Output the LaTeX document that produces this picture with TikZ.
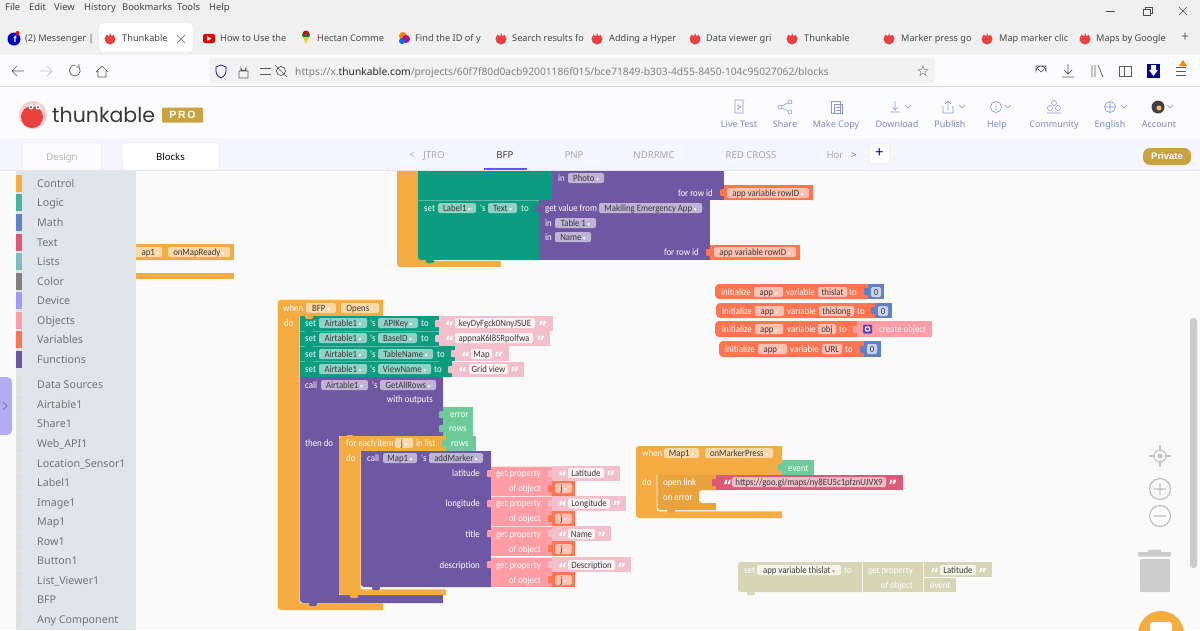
\documentclass[tikz,border=0pt]{standalone}
\usepackage{fontspec}
\setmainfont{Noto Sans}
\newfontfamily\symfont{DejaVu Sans}
\newfontfamily\logofont{Poppins}
\newfontfamily\blockfont[FakeStretch=0.91]{Carlito}
\newfontfamily\boldui{Liberation Sans}
\usetikzlibrary{positioning}

\definecolor{ctrl}{HTML}{F4AB41}
\definecolor{ctrlb}{HTML}{FFC62E}
\definecolor{setg}{HTML}{0C9C80}
\definecolor{fn}{HTML}{6F58A3}
\definecolor{obj}{HTML}{FF9CA4}
\definecolor{varb}{HTML}{FF7552}
\definecolor{strp}{HTML}{F2BFCB}
\definecolor{rose}{HTML}{DB5A78}
\definecolor{numb}{HTML}{6080C8}
\definecolor{evg}{HTML}{6ECB99}
\definecolor{ghost}{HTML}{D6D6B6}
\definecolor{side}{HTML}{E0E5EC}
\definecolor{uiblue}{HTML}{8A96D8}
\definecolor{gold}{HTML}{C9A33F}
\definecolor{thred}{HTML}{E8413F}
\definecolor{lilac}{HTML}{B3ACF2}

\tikzset{
    wtxt/.style={text=white, inner sep=0pt, text height=6.5pt, text depth=.5pt, font=\blockfont\fontsize{9.7}{11}\selectfont},
    ui/.style={inner sep=0pt, text height=7.5pt, text depth=.5pt, font=\fontsize{9.6}{11}\selectfont},
    pill/.style={rounded corners=2pt, inner sep=0pt, minimum height=10pt, text height=7pt, text depth=1pt, text=black!78, font=\blockfont\fontsize{9.6}{10}\selectfont},
    pgreen/.style={fill=setg!45!white},
    pfn/.style={fill=fn!45!white},
    pctrl/.style={fill=ctrl!45!white},
    pstr/.style={fill=white!80!strp},
    prose/.style={fill=rose!40!white},
    pvar/.style={fill=varb!45!white},
    pnum/.style={fill=numb!35!white},
    pghost/.style={fill=white!75!ghost},
    icn/.style={draw=uiblue, line width=.6pt},
    nav/.style={draw=black!65, line width=.7pt},
    qmark/.style={wtxt, anchor=base west, font=\symfont\bfseries\fontsize{14}{14}\selectfont},
}

\newcommand{\llab}[4]{\node[wtxt, anchor=west] (#1) at (#2,#3) {#4};}
\newcommand{\rlab}[4]{\node[wtxt, anchor=east] (#1) at (#2,#3) {#4};}
\newcommand{\dd}{\textcolor{white}{\,{\symfont\fontsize{5.5}{6}\selectfont ▾}}}
\newcommand{\pil}[6]{\node[pill, #5, minimum width={(#3-#2)*1pt}] (#1) at ({(#2+#3)/2},#4) {#6};}
\newcommand{\lqt}[3]{\node[qmark] (#1) at (#2,#3+8) {“};}
\newcommand{\rqt}[3]{\node[qmark] (#1) at (#2,#3+8) {”};}
\newcommand{\tabin}[3]{\fill[#3, rounded corners=1pt] (#1-4,#2+4) rectangle (#1+1,#2+11);}
\newcommand{\notch}[3]{\fill[#3, rounded corners=1.5pt] (#1,#2-1) rectangle (#1+8,#2+3);}
\newcommand{\cblk}[9]{
    \fill[#1] [rounded corners=3pt] (#2,#9) -- (#2,#3) [sharp corners] -- (#4,#3) -- (#4,#5) -- (#6,#5) -- (#6,#7) -- (#8,#7) -- (#8,#9) [rounded corners=3pt] -- cycle;
    \draw[white, line width=.7pt, rounded corners=2pt] (#6,#5) -- (#6,#7) -- (#8,#7);
}
\newcommand{\thunk}[2]{
    \fill[thred] (#1,#2) circle (5.5);
    \fill[white] (#1-1.5,#2-4.5) circle (1.4) (#1+2,#2-4.5) circle (1.4);
}

\begin{document}
\begin{tikzpicture}[x=1pt, y=-1pt]
    \useasboundingbox (0,0) rectangle (1200,630);
    \fill[white!70!black!3] (0,0) rectangle (1200,630);
    \fill[black!2] (0,170) rectangle (1200,630);

    % blocks at the top
    \fill[ctrl, rounded corners=3pt] (397,165) rectangle (430,267);
    \fill[ctrl] (420,261) rectangle (501,267);
    \fill[setg] (418,165) rectangle (552,200);
    \fill[setg] [sharp corners] (418,200) -- (539,200) -- (539,260) -- (423,260) [rounded corners=3pt] -- (418,260) [sharp corners] -- cycle;
    \notch{426}{260}{setg}
    \draw[setg!70!white, line width=.4pt] (418,200) -- (539,200);
    \fill[fn] (552,165) rectangle (724,200);
    \fill[fn] (539,200) rectangle (710,260);
    \fill[varb] (724,185) rectangle (813,200);
    \fill[varb] (710,245) rectangle (800,260);
    \tabin{724}{185}{varb}
    \tabin{710}{245}{varb}
    \tabin{539}{201}{fn}
    \llab{inphoto}{558}{178}{in}
    \pil{photo}{568}{604}{178}{pfn}{Photo\dd}
    \rlab{rowida}{713}{193}{for row id}
    \pil{rowvara}{727}{809}{193}{pvar}{app variable rowID\dd}
    \llab{setlabel}{424}{208}{set}
    \pil{label}{438}{476}{208}{pgreen}{Label1\dd}
    \llab{slabel}{480}{208}{'s}
    \pil{textp}{488}{517}{208}{pgreen}{Text\dd}
    \llab{tolabel}{521}{208}{to}
    \llab{getval}{545}{208}{get value from}
    \pil{makiling}{599}{702}{208}{pfn}{Makiling Emergency App\dd}
    \llab{intable}{545}{223}{in}
    \pil{table}{555}{596}{223}{pfn}{Table 1\dd}
    \llab{inname}{545}{237}{in}
    \pil{namep}{555}{591}{237}{pfn}{Name\dd}
    \rlab{rowidb}{699}{252}{for row id}
    \pil{rowvarb}{714}{796}{252}{pvar}{app variable rowID\dd}

    % block behind the palette
    \fill[ctrl] (125,244) rectangle (234,260);
    \fill[ctrl] (125,273) rectangle (234,279);
    \pil{mapa}{125}{162}{252}{pctrl}{\hspace*{14pt}ap1\dd}
    \pil{ready}{168}{230}{252}{pctrl}{onMapReady\dd}

    % when BFP opens
    \cblk{ctrl}{278}{300}{383}{316}{300}{603}{383}{610}
    \draw[ctrlb, line width=.7pt, rounded corners=3pt] (278,610) -- (278,300) -- (383,300);
    \llab{whenb}{283}{308}{when}
    \pil{bfp}{306}{336}{308}{pctrl}{BFP\dd}
    \pil{opens}{341}{379}{308}{pctrl}{Opens\dd}
    \llab{dob}{284}{323}{do}
    \fill[setg] (300,316) rectangle (439,331);
    \fill[setg] (300,331) rectangle (439,346);
    \fill[setg] (300,346) rectangle (455,361);
    \fill[setg] (300,361) rectangle (452,377);
    \foreach \ys in {331,346,361} {
        \draw[setg!70!white, line width=.4pt] (300,\ys) -- (439,\ys);
    }
    \foreach \ys in {316,331,346,361,377} {
        \notch{305}{\ys}{setg}
    }
    \notch{305}{316}{ctrl}
    \fill[strp] (439,316) rectangle (553,331);
    \fill[strp] (439,331) rectangle (550,346);
    \fill[strp] (455,346) rectangle (509,361);
    \fill[strp] (452,362) rectangle (524,377);
    \tabin{439}{316}{strp}
    \tabin{439}{331}{strp}
    \tabin{455}{346}{strp}
    \tabin{452}{362}{strp}
    \foreach \n/\yr/\fld/\fldw/\fa/\fb/\qa/\qb/\tox/\val [count=\k] in {
        APIKey/323/418/418/455/535/445/538/421/keyDyFgck0NnyJSUE,
        BaseID/338/417/417/455/533/445/536/421/appnaK6I8SRpolfwa,
        TableName/354/433/433/471/492/461/494/437/Map,
        ViewName/369/431/431/469/508/458/510/434/Grid view} {
        \llab{set\k}{305}{\yr}{set}
        \pil{air\k}{319}{367}{\yr}{pgreen}{Airtable1\dd}
        \llab{s\k}{370}{\yr}{'s}
        \pil{prop\k}{378}{\fld}{\yr}{pgreen}{\n\dd}
        \llab{to\k}{\tox}{\yr}{to}
        \lqt{qa\k}{\qa}{\yr}
        \pil{val\k}{\fa}{\fb}{\yr}{pstr}{\val}
        \rqt{qb\k}{\qb}{\yr}
    }

    % call GetAllRows
    \fill[fn] [sharp corners] (300,377) -- (443,377) -- (443,436) -- (339,436) -- (339,595) -- (443,595) -- (443,603) -- (305,603) [rounded corners=3pt] -- (300,603) [sharp corners] -- cycle;
    \notch{309}{603}{fn}
    \fill[evg] (443,407) rectangle (473,421);
    \fill[evg] (443,421) rectangle (473,436);
    \tabin{443}{407}{evg}
    \tabin{443}{421}{evg}
    \llab{callc}{305}{385}{call}
    \pil{airc}{321}{368}{385}{pfn}{Airtable1\dd}
    \llab{sc}{372}{385}{'s}
    \pil{rows}{380}{436}{385}{pfn}{GetAllRows\dd}
    \rlab{outs}{433}{399}{with outputs}
    \llab{errorv}{450}{414}{error}
    \llab{rowsa}{449}{428.5}{rows}
    \llab{thendo}{305}{443}{then do}

    % for each item
    \cblk{ctrl}{339}{436}{446}{451}{361}{589}{446}{595}
    \notch{350}{595}{ctrl}
    \notch{346}{436}{ctrl}
    \fill[evg] (446,436) rectangle (476,451);
    \tabin{446}{436}{evg}
    \llab{foreach}{346}{443}{for each item}
    \pil{jloop}{395}{413}{443}{pctrl}{j\dd}
    \llab{inlist}{416}{443}{in list}
    \llab{rowsb}{451}{443}{rows}
    \llab{dofor}{346}{458}{do}

    % call addMarker
    \fill[fn] [sharp corners] (361,451) -- (491,451) -- (491,587) -- (366,587) [rounded corners=3pt] -- (361,587) [sharp corners] -- cycle;
    \notch{372}{587}{fn}
    \llab{callm}{367}{458}{call}
    \pil{mapm}{383}{417}{458}{pfn}{Map1\dd}
    \llab{sm}{421}{458}{'s}
    \pil{addm}{429}{483}{458}{pfn}{addMarker\dd}
    \foreach \n/\pa/\pb/\sb/\fb/\qb/\pname [count=\k] in {
        latitude/466/473/481/604/606/Latitude,
        longitude/496/503.5/511/610/612/Longitude,
        title/526/534/541/595/597/Name,
        description/557/565/572/615/617/Description} {
        \fill[obj] (491,\pa) rectangle (552,\pa+30);
        \draw[white!70!obj, line width=.4pt] (491,\pa) -- (552,\pa);
        \tabin{491}{\pa}{obj}
        \fill[strp] (552,\pa) rectangle (\fb+16,\sb);
        \tabin{552}{\pa}{strp}
        \fill[varb] (552,\sb) rectangle (575,\sb+15);
        \tabin{552}{\sb}{varb}
        \rlab{argn\k}{480}{\pb}{\n}
        \rlab{getp\k}{541}{\pb}{get property}
        \rlab{ofo\k}{541}{\pb+15}{of object}
        \lqt{qc\k}{558}{\pb}
        \pil{pn\k}{568}{\fb}{\pb}{pstr}{\pname}
        \rqt{qd\k}{\qb}{\pb}
        \pil{pj\k}{555}{572}{\pb+15}{pvar}{j\dd}
    }

    % initialize blocks
    \fill[varb, rounded corners=4pt] (715,284) rectangle (872,299);
    \fill[varb, rounded corners=4pt] (716,303) rectangle (879,318);
    \fill[varb, rounded corners=4pt] (715,321) rectangle (860,337);
    \fill[varb, rounded corners=4pt] (719,341) rectangle (868,357);
    \fill[numb] (868,284) rectangle (884,299);
    \fill[numb] (875,303) rectangle (892,318);
    \fill[obj] (857,321) rectangle (932,337);
    \fill[numb] (864,341) rectangle (881,357);
    \tabin{868}{284}{numb}
    \tabin{875}{303}{numb}
    \tabin{857}{322}{obj}
    \tabin{864}{342}{numb}
    \foreach \yr/\xa/\appa/\appb/\xv/\na/\nb/\nm/\tox [count=\k] in {
        292/721/754/783/786/818/847/thislat/849,
        311/722/755/784/787/819/854/thislong/857,
        329/722/755/783/787/818/836/obj/839,
        349/725/758/787/790/822/842/URL/845} {
        \llab{init\k}{\xa}{\yr}{initialize}
        \pil{app\k}{\appa}{\appb}{\yr}{pvar}{app\dd}
        \llab{vari\k}{\xv}{\yr}{variable}
        \pil{vn\k}{\na}{\nb}{\yr}{pvar}{\nm}
        \llab{tov\k}{\tox}{\yr}{to}
    }
    \pil{zeroa}{871}{881}{292}{pnum}{0}
    \pil{zerob}{878}{888}{311}{pnum}{0}
    \pil{zeroc}{867}{877}{349}{pnum}{0}
    \node[fill=fn!85!blue, rounded corners=1pt, minimum size=9pt, inner sep=0pt] (gear) at (867.5,329) {};
    \draw[white, line width=1pt] (gear.center) circle (2.2);
    \llab{createo}{879}{329}{create object}

    % when map marker pressed
    \fill[ctrl] [rounded corners=3pt] (636,518) -- (636,446) [sharp corners] -- (782,446) -- (782,475) -- (657,475) -- (657,511) -- (782,511) -- (782,518) [rounded corners=3pt] -- cycle;
    \fill[ctrl!95!black] [sharp corners] (657,475) -- (716,475) -- (716,490) -- (703,490) [rounded corners=3pt] -- (699,490) -- (699,503) [sharp corners] -- (716,503) -- (716,510) -- (662,510) [rounded corners=3pt] -- (657,510) [sharp corners] -- cycle;
    \draw[white, line width=.6pt, rounded corners=2pt] (657,475) -- (657,511) -- (782,511);
    \notch{667}{510}{ctrl!95!black}
    \fill[evg] (782,460) rectangle (814,475);
    \tabin{782}{460}{evg}
    \fill[rose] (716,475) rectangle (903,490);
    \tabin{716}{475}{rose}
    \llab{whenm}{642}{453}{when}
    \pil{mapw}{664}{699}{453}{pctrl}{Map1\dd}
    \pil{markerp}{705}{773}{453}{pctrl}{onMarkerPress\dd}
    \llab{eventa}{788}{468}{event}
    \llab{dom}{642}{482}{do}
    \llab{openl}{663}{482}{open link}
    \llab{onerr}{663}{497}{on error}
    \lqt{qe}{723}{482}
    \pil{urlf}{732}{886}{482}{prose}{https://goo.gl/maps/ny8EU5c1pfznUJVX9}
    \rqt{qf}{888}{482}

    % disabled block
    \fill[ghost, rounded corners=3pt] (738,562) rectangle (870,592);
    \notch{747}{592}{ghost}
    \fill[ghost] (863,562) rectangle (923,592);
    \fill[ghost] (924,562) rectangle (992,577);
    \fill[ghost] (924,578) rectangle (956,592);
    \draw[white!70!ghost, line width=.5pt] (862.5,562) -- (862.5,592) (923.5,562) -- (923.5,592);
    \llab{setgh}{744}{570}{set}
    \pil{thislat}{757}{841}{570}{pghost}{app variable thislat\textcolor{varb}{\,{\symfont\fontsize{5.5}{6}\selectfont ▾}}}
    \llab{tog}{844}{570}{to}
    \rlab{getg}{913}{570}{get property}
    \rlab{ofg}{913}{585}{of object}
    \lqt{qg}{930}{570}
    \pil{latg}{940}{976}{570}{pghost}{Latitude}
    \rqt{qh}{978}{570}
    \llab{eventg}{930}{585}{event}

    % trash and map controls
    \fill[black!20, rounded corners=1pt] (1140,559) rectangle (1170,592);
    \fill[black!20, rounded corners=1pt] (1138,552) rectangle (1171,556.5);
    \fill[black!20, rounded corners=1pt] (1148,549.5) rectangle (1161,553);
    \draw[black!25, line width=1.2pt] (1160,456) circle (6);
    \fill[black!25] (1160,456) circle (2.5);
    \draw[black!25, line width=1.2pt] (1160,445) -- (1160,450) (1160,462) -- (1160,467) (1149,456) -- (1154,456) (1166,456) -- (1171,456);
    \draw[black!25, line width=1.2pt] (1160,489) circle (10.5) (1154,489) -- (1166,489) (1160,483) -- (1160,495);
    \draw[black!25, line width=1.2pt] (1160,516) circle (10.5) (1154,516) -- (1166,516);
    \fill[black!20, rounded corners=3pt] (1190,318) rectangle (1197,568);
    \fill[ctrl] (1161,634) circle (23);
    \fill[white, rounded corners=3pt] (1150,622) rectangle (1172,636);

    % palette
    \fill[side] (16,171) rectangle (136,630);
    \foreach \yc/\swatch/\n [count=\k] in {
        184/ctrl/Control, 203/setg!75!white/Logic, 223/numb/Math, 243/rose/Text,
        262/numb!30!setg!60!white/Lists, 281.5/black!50/Color, 301/lilac!90!blue/Device,
        321/obj/Objects, 340/varb/Variables, 359.7/fn/Functions} {
        \fill[\swatch] (16,\yc-9) rectangle (22,\yc+8);
        \node[ui, anchor=west, text=black!55, font=\fontsize{10.7}{12}\selectfont] (cat\k) at (37,\yc) {\n};
    }
    \foreach \yc/\n [count=\k] in {
        385/Data Sources, 405/Airtable1, 424/Share1, 444/Web\_API1, 463.5/Location\_Sensor1,
        483/Label1, 503/Image1, 522/Map1, 541.5/Row1, 561/Button1, 581/List\_Viewer1,
        600/BFP, 620/Any Component} {
        \fill[black!12] (16,\yc-9) rectangle (22,\yc+8);
        \node[ui, anchor=west, text=black!55, font=\fontsize{10.7}{12}\selectfont] (comp\k) at (37,\yc) {\n};
    }
    \fill[lilac, rounded corners=5pt] (-6,377) rectangle (12,435);
    \draw[black!60, line width=.6pt] (3,402) -- (7,406) -- (3,410);

    % page header
    \fill[blue!1!white] (0,86) rectangle (1200,138);
    \fill[blue!4!white] (0,138) rectangle (1200,170);
    \draw[black!10, line width=.6pt] (0,170.5) -- (1200,170.5);
    \node[ui, draw=black!10, fill=blue!1!white, rounded corners=1pt, minimum width=79pt, minimum height=27pt, text=black!30] (design) at (62,156.5) {Design};
    \node[ui, draw=black!10, fill=white, rounded corners=1pt, minimum width=95pt, minimum height=27pt] (blocks) at (170.5,156.5) {Blocks};
    \fill[thred!25!white] (33,115) circle (14);
    \fill[thred] (32,117) circle (11);
    \fill[white] (31,107) circle (2.5) (38,107) circle (2.5);
    \fill[black!75] (31,107) circle (1) (38,107) circle (1);
    \node[inner sep=0pt, anchor=west, text=black!78, font=\logofont\fontsize{20.5}{22}\selectfont] (brand) at (52,115) {thunkable};
    \node[fill=gold, text=white, rounded corners=1pt, inner sep=0pt, minimum width=41pt, minimum height=15pt, font=\boldui\bfseries\fontsize{10.5}{12}\selectfont] (pro) at (182.5,115) {P\,R\,O};

    \foreach \xc/\n [count=\k] in {739/Live Test, 785/Share, 836/Make Copy, 897/Download, 950/Publish, 997/Help, 1054/Community, 1110/English, 1159/Account} {
        \node[ui, text=uiblue!90!black, font=\fontsize{9}{11}\selectfont] (act\k) at (\xc,124) {\n};
    }
    \draw[icn] (735,100) rectangle (743,113) (738,105) -- (741,107) -- (738,109) -- cycle;
    \draw[icn] (780,107) circle (2) (790,102) circle (2) (790,112) circle (2) (782,106) -- (788,103) (782,108) -- (788,111);
    \draw[icn] (831,101) rectangle (840,113) (834,104) rectangle (842,113) (836,107) -- (840,107) (836,110) -- (840,110);
    \draw[icn] (890,112) -- (900,112) (895,101) -- (895,110) (892,107) -- (895,110) -- (898,107) (905,105) -- (908,108) -- (911,105);
    \draw[icn] (943,106) -- (943,113) -- (953,113) -- (953,106) (948,110) -- (948,101) (945,104) -- (948,101) -- (951,104) (959,105) -- (962,108) -- (965,105);
    \draw[icn] (996,107) circle (5.5) (996,106) -- (996,110) (996,104) -- (996,104.6) (1005,105) -- (1008,108) -- (1011,105);
    \draw[icn] (1054,103) circle (2.5) (1050,108) circle (2.5) (1058,108) circle (2.5) (1047,113) -- (1061,113);
    \draw[icn] (1110,107) circle (5.5) (1104.5,107) -- (1115.5,107) (1110,101.5) -- (1110,112.5) (1121,105) -- (1124,108) -- (1127,105);
    \fill[black!75] (1158,107) circle (6.5);
    \fill[orange!60!white] (1159,108) circle (2.5);
    \draw[icn] (1167,105) -- (1170,108) -- (1173,105);

    \node[ui, text=black!35] (intro) at (434,154.5) {JTRO};
    \node[ui, text=black!35] (lt) at (412,154.5) {<};
    \node[ui, text=black!75] (tabbfp) at (505,154.5) {BFP};
    \fill[blue!65!white] (484,168) rectangle (527,170);
    \node[ui, text=black!35] (pnp) at (574,154.5) {PNP};
    \node[ui, text=black!35] (ndr) at (654,154.5) {NDRRMC};
    \node[ui, text=black!35] (red) at (751,154.5) {RED CROSS};
    \node[ui, text=black!35] (hor) at (835,154.5) {Hor};
    \node[ui, text=black!55] (gt) at (854,154.5) {>};
    \node[draw=black!12, fill=white, rounded corners=2pt, minimum size=20pt, inner sep=0pt, text=blue!70!black, font=\fontsize{15}{15}\selectfont] (addtab) at (879.5,153.5) {+};
    \node[fill=gold, text=white, rounded corners=7pt, minimum width=48pt, minimum height=17pt, inner sep=0pt, font=\boldui\bfseries\fontsize{9.5}{11}\selectfont] (private) at (1167,156.5) {Private};

    % browser chrome
    \fill[black!6] (0,0) rectangle (1200,55);
    \fill[blue!1!white] (0,55) rectangle (1200,86);
    \draw[black!15, line width=.7pt] (0,86) -- (1200,86);
    \foreach \xc/\n [count=\k] in {5/File, 29/Edit, 54/View, 84/History, 122/Bookmarks, 177/Tools, 209/Help} {
        \node[ui, anchor=west, text=black!75, font=\fontsize{9.4}{11}\selectfont] (menu\k) at (\xc,6.5) {\n};
    }
    \draw[black!70, line width=.6pt] (1106,11) -- (1115,11);
    \draw[black!70, line width=.6pt] (1143,9) rectangle (1150,15) (1145,9) -- (1145,7) -- (1152,7) -- (1152,13) -- (1150,13);
    \draw[black!70, line width=.6pt] (1179,7) -- (1187,15) (1187,7) -- (1179,15);
    \fill[white, rounded corners=3pt, draw=black!12] (99,23) rectangle (193,52);
    \foreach \xc/\n [count=\k] in {25/(2) Messenger |, 122/Thunkable, 220/How to Use the, 317/Hectan Comme, 415/Find the ID of y, 512/Search results fo, 609/Adding a Hyper, 706/Data viewer gri, 804/Thunkable, 901/Marker press go, 999/Map marker clic, 1096/Maps by Google} {
        \node[ui, anchor=west, text=black!72, font=\fontsize{9.2}{11}\selectfont] (tab\k) at (\xc,38) {\n};
    }
    \foreach \xc in {110,501,597,695,792,889,987,1085} {
        \thunk{\xc}{39}
    }
    \fill[blue!75!black] (14,39) circle (6.5);
    \node[inner sep=0pt, text=white, font=\boldui\bfseries\fontsize{9}{9}\selectfont] (fbf) at (15,39.5) {f};
    \fill[red] (17.5,33) circle (2);
    \fill[red!90!black, rounded corners=2pt] (203,34) rectangle (215,43);
    \fill[white] (207,36) -- (207,41) -- (211.5,38.5) -- cycle;
    \fill[green!60!black] (306,35) circle (4);
    \fill[red!85!black] (306,33.5) circle (3);
    \fill[yellow!85!black] (303,37) -- (309,37) -- (306,44) -- cycle;
    \fill[blue!70!white] (306,35) circle (1.5);
    \fill[orange] (403,36) circle (4);
    \fill[magenta!70!blue] (406,39) circle (4);
    \fill[blue!60!cyan] (402,41) circle (3);
    \draw[black!55, line width=.7pt] (177,35) -- (185,43) (185,35) -- (177,43);
    \node[ui, text=black!60, font=\fontsize{14}{14}\selectfont] (newtab) at (1185,38) {+};

    \draw[nav] (12,71) -- (24,71) (17,66) -- (12,71) -- (17,76);
    \draw[nav, black!25] (40,71) -- (52,71) (47,66) -- (52,71) -- (47,76);
    \draw[nav] (79,67) arc (-40:280:5.5) (79,64) -- (79,67) -- (76,67);
    \draw[nav] (96,72) -- (102,66) -- (108,72) (98,71) -- (98,77) -- (106,77) -- (106,71);
    \fill[black!5, rounded corners=3pt] (209,58) rectangle (935,83);
    \draw[blue!60!black, line width=.7pt] (221,65) -- (226,67) -- (226,71) .. controls (226,75) and (223,77) .. (221,78) .. controls (219,77) and (216,75) .. (216,71) -- (216,67) -- cycle;
    \draw[nav] (239,71) rectangle (248,78) (241,71) -- (241,68) arc (180:0:2.5) -- (246,71);
    \draw[nav] (260,68) -- (271,68) (260,74) -- (271,74);
    \draw[nav] (281,71) circle (4.5) (275,65) -- (287,77);
    \node[ui, anchor=west, text=black!50, font=\fontsize{10.25}{12}\selectfont] (url) at (295,71.5) {https://x.\textcolor{black!85}{thunkable.com}/projects/60f7f80d0acb92001186f015/bce71849-b303-4d55-8450-104c95027062/blocks};
    \node[inner sep=0pt, text=black!70, font=\symfont\fontsize{15}{15}\selectfont] (star) at (923,71) {☆};
    \draw[nav] (1036,66) -- (1046,66) -- (1046,71) arc (0:-180:5) -- cycle (1038,69) -- (1041,72) -- (1044,69);
    \draw[nav] (1068,64) -- (1068,74) (1064,70) -- (1068,74) -- (1072,70) (1062,77) -- (1074,77);
    \draw[nav] (1092,65) -- (1092,77) (1095,65) -- (1095,77) (1098,65) -- (1103,77);
    \draw[nav] (1119,66) rectangle (1131,76) (1124,66) -- (1124,76);
    \fill[blue!55!black] (1147,64) rectangle (1160,78);
    \fill[white] (1151,65) rectangle (1156,70) (1149,70) -- (1158,70) -- (1153.5,76) -- cycle;
    \draw[nav] (1176,67) -- (1186,67) (1176,71) -- (1186,71) (1176,75) -- (1186,75);
    \fill[orange] (1183,60) -- (1187,66) -- (1179,66) -- cycle;
\end{tikzpicture}
\end{document}
